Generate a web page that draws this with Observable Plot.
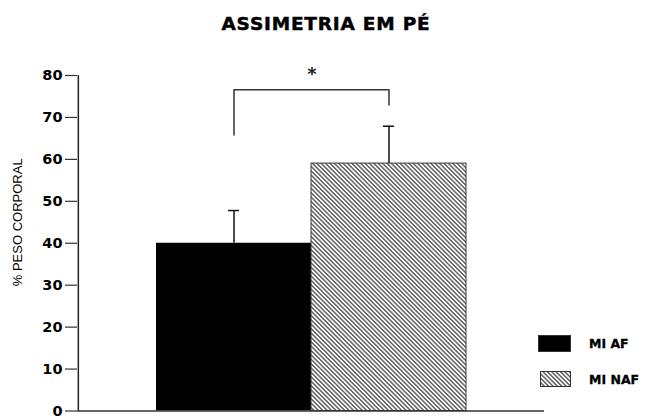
<!DOCTYPE html>
<html>
<head>
<meta charset="utf-8">
<script src="https://cdn.jsdelivr.net/npm/d3@7"></script>
<script src="https://cdn.jsdelivr.net/npm/@observablehq/plot@0.6"></script>
<style>
  html, body { margin: 0; padding: 0; background: #fff; }
  #wrap { position: relative; width: 667px; height: 416px; overflow: hidden; }
  #title { position: absolute; left: 326px; top: 13px; transform: translateX(-50%);
    font-family: "DejaVu Sans", sans-serif; font-weight: bold; font-size: 18.5px; letter-spacing: 0.8px; white-space: nowrap; color: #000;
    -webkit-text-stroke: 0.5px #000; }
  #chart { position: absolute; left: 0; top: 46px; }
  .leg { position: absolute; display: flex; align-items: center; font-family: "DejaVu Sans", sans-serif; font-weight: bold; font-size: 12.5px; color: #000; -webkit-text-stroke: 0.3px #000; }
  .leg svg { display: block; margin-right: 18px; }
</style>
</head>
<body>
<div id="wrap">
  <div id="title"></div>
  <div id="chart"></div>
</div>
<script>
const titleText = "ASSIMETRIA EM PÉ";
const yLabel = "% PESO CORPORAL";
const categories = ["MI AF", "MI NAF"];
const means = [40.0, 59.0];
const errors = [7.8, 8.9];
const yTicks = [0, 10, 20, 30, 40, 50, 60, 70, 80];
const bracketTop = 76.6;
const bracketLegEnds = [65.6, 72.7];
const starText = "*";

document.getElementById("title").textContent = titleText;

const rows = categories.map((c, i) => ({cat: c, mean: means[i], err: errors[i], leg: bracketLegEnds[i]}));

const W = 667, ML = 77, MR = 123, PAD_OUTER = 0.5;
const step = (W - ML - MR) / (categories.length + 2 * PAD_OUTER);

const plot = Plot.plot({
  width: W,
  height: 370,
  marginTop: 29,
  marginBottom: 5.5,
  marginLeft: ML,
  marginRight: MR,
  style: {fontFamily: "DejaVu Sans, sans-serif", color: "#000", background: "transparent", overflow: "visible"},
  x: {domain: categories, paddingInner: 0, paddingOuter: PAD_OUTER, axis: null},
  y: {domain: [0, 80], axis: null},
  marks: [
    Plot.barY(rows.filter((d, i) => i === 0), {x: "cat", y: "mean", fill: "#000", inset: 0}),
    Plot.barY(rows.filter((d, i) => i === 1), {x: "cat", y: "mean", fill: "url(#hatch)", stroke: "#3a3a3a", strokeWidth: 1, inset: 0}),
    Plot.ruleX(rows, {x: "cat", y1: "mean", y2: d => d.mean + d.err, stroke: "#111", strokeWidth: 1.5}),
    Plot.tickY(rows, {x: "cat", y: d => d.mean + d.err, stroke: "#111", strokeWidth: 1.5, insetLeft: 72, insetRight: 72}),
    Plot.ruleX(rows, {x: "cat", y1: "leg", y2: () => bracketTop, stroke: "#333", strokeWidth: 1.5}),
    Plot.link([bracketTop], {x1: () => categories[0], x2: () => categories[1], y1: d => d, y2: d => d, stroke: "#333", strokeWidth: 1.5}),
    Plot.text([starText], {x: () => categories[0], y: () => 80.2, dx: step / 2, text: d => d, fontSize: 18, fontWeight: "bold", fill: "#222"}),
    Plot.ruleY([0], {stroke: "#333", strokeWidth: 1.5}),
    Plot.axisY({ticks: yTicks, tickSize: 12, tickPadding: 3, label: null, fontSize: 14.5, fontWeight: "bold", stroke: "#333", strokeWidth: 1.2}),
    Plot.ruleX([0], {x: () => categories[0], dx: -step, y1: () => 0, y2: () => 80, stroke: "#222", strokeWidth: 1.5}),
    Plot.text([yLabel], {frameAnchor: "left", y: () => 45, dx: -60, rotate: -90, textAnchor: "middle", text: d => d, fontSize: 13, fontFamily: "Liberation Sans, Arial, sans-serif", fill: "#000"})
  ]
});

// hatch pattern definition
const ns = "http://www.w3.org/2000/svg";
const defs = document.createElementNS(ns, "defs");
defs.innerHTML = '<pattern id="hatch" patternUnits="userSpaceOnUse" width="3.1" height="3.1" patternTransform="rotate(45)">' +
  '<rect width="3.1" height="3.1" fill="#fff"/>' +
  '<line x1="0" y1="1.55" x2="3.1" y2="1.55" stroke="#111" stroke-width="1.0"/></pattern>';
plot.insertBefore(defs, plot.firstChild);
plot.querySelectorAll('[aria-label="y-axis tick label"] text').forEach(t => t.setAttribute("stroke", "none"));
document.getElementById("chart").appendChild(plot);

// legend
const legendPos = [{top: 335, h: 17, x: 538, w: 33}, {top: 371, h: 16, x: 540, w: 31}];
const fills = ["#000", "url(#hatch)"];
categories.forEach((c, i) => {
  const p = legendPos[i];
  const div = document.createElement("div");
  div.className = "leg";
  div.style.left = p.x + "px";
  div.style.top = p.top + "px";
  div.style.height = p.h + "px";
  const s = document.createElementNS(ns, "svg");
  s.setAttribute("width", p.w);
  s.setAttribute("height", p.h);
  s.innerHTML = `<rect x="0.5" y="0.5" width="${p.w - 1}" height="${p.h - 1}" fill="${fills[i]}" stroke="#333" stroke-width="1"/>`;
  div.appendChild(s);
  const t = document.createElement("span");
  t.textContent = c;
  div.appendChild(t);
  document.getElementById("wrap").appendChild(div);
});
</script>
</body>
</html>
